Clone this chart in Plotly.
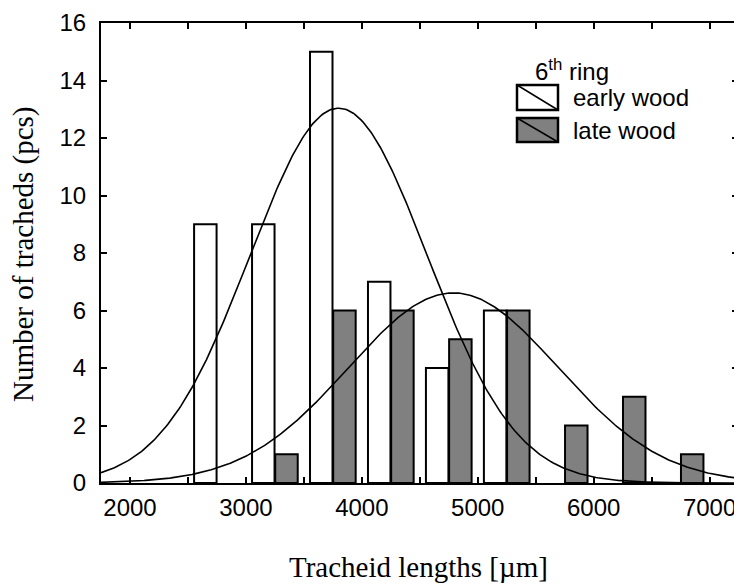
import numpy as np
import plotly.graph_objects as go

# ---- data ----
bin_centers_early = [2750, 3250, 3750, 4250, 4750, 5250]
counts_early = [9, 9, 15, 7, 4, 6]
bin_centers_late = [3250, 3750, 4250, 4750, 5250, 5750, 6250, 6750]
counts_late = [1, 6, 6, 5, 6, 2, 3, 1]
bin_width = 500

# normal-fit parameters (fitted curves drawn in the original)
fit_mean_early, fit_sd_early = 3800, 765
fit_mean_late, fit_sd_late = 4790, 905

x_range = [1750, 7245]
y_range = [0, 16]
x_tick_vals = [2000, 3000, 4000, 5000, 6000, 7000]
y_tick_vals = [0, 2, 4, 6, 8, 10, 12, 14, 16]

def normal_fit(mean, sd, n):
    xs = np.linspace(x_range[0], x_range[1], 400)
    ys = n * bin_width / (sd * np.sqrt(2 * np.pi)) * np.exp(-0.5 * ((xs - mean) / sd) ** 2)
    return xs, ys

fig = go.Figure()
fig.add_trace(go.Bar(x=bin_centers_early, y=counts_early, name="early wood",
                     marker=dict(color="white", line=dict(color="black", width=2))))
fig.add_trace(go.Bar(x=bin_centers_late, y=counts_late, name="late wood",
                     marker=dict(color="#808080", line=dict(color="black", width=2))))

xe, ye = normal_fit(fit_mean_early, fit_sd_early, sum(counts_early))
xl, yl = normal_fit(fit_mean_late, fit_sd_late, sum(counts_late))
fig.add_trace(go.Scatter(x=xe, y=ye, mode="lines", line=dict(color="black", width=1.6),
                         showlegend=False, hoverinfo="skip"))
fig.add_trace(go.Scatter(x=xl, y=yl, mode="lines", line=dict(color="black", width=1.6),
                         showlegend=False, hoverinfo="skip"))

tick_font = dict(family="Liberation Sans, Arial", size=24, color="black")
title_font = dict(family="Liberation Serif, Times New Roman", size=29, color="black")

# the page body has an 8px margin, so the figure is sized/placed to compensate
W, H = 734, 579
L, R, T, B = 93, 4, 15, 104
fig.update_layout(
    width=W, height=H,
    margin=dict(l=L, r=R, t=T, b=B, autoexpand=False),
    paper_bgcolor="white", plot_bgcolor="white",
    barmode="group", bargap=0.2, bargroupgap=0.03,
    showlegend=False,
    xaxis=dict(range=x_range, tickvals=x_tick_vals, ticks="inside", ticklen=6, tickwidth=1.5,
               tickcolor="black", showline=True, linecolor="black", linewidth=2, mirror="ticks",
               showgrid=False, zeroline=False, tickfont=tick_font, ticklabelstandoff=2,
               automargin=False,
               minor=dict(dtick=500, tick0=0, ticks="inside", ticklen=6, tickwidth=1.5, tickcolor="black")),
    yaxis=dict(range=y_range, tickvals=y_tick_vals, ticks="inside", ticklen=6, tickwidth=1.5,
               tickcolor="black", showline=True, linecolor="black", linewidth=2, mirror="ticks",
               showgrid=False, zeroline=False, tickfont=tick_font, ticklabelstandoff=8,
               automargin=False),
)

PW, PH = W - L - R, H - T - B

def px2paper(px, py):
    # px, py: positions in the figure's own pixel frame
    return (px - L) / PW, (T + PH - py) / PH

# axis titles as annotations for exact placement
tx, ty = px2paper(410, 559)
fig.add_annotation(xref="paper", yref="paper", x=tx, y=ty, text="Tracheid lengths [µm]",
                   showarrow=False, xanchor="center", yanchor="middle", font=title_font)
tx, ty = px2paper(15, 246)
fig.add_annotation(xref="paper", yref="paper", x=tx, y=ty, text="Number of tracheds (pcs)",
                   showarrow=False, xanchor="center", yanchor="middle", textangle=-90, font=title_font)

# custom legend (boxes with diagonal lines, like the original)
legend_items = [("early wood", "white", 77, 102), ("late wood", "#808080", 110, 134)]
for label, color, top, bot in legend_items:
    x0, y0 = px2paper(509, bot)
    x1, y1 = px2paper(550, top)
    fig.add_shape(type="rect", xref="paper", yref="paper", x0=x0, y0=y0, x1=x1, y1=y1,
                  fillcolor=color, line=dict(color="black", width=2.5))
    fig.add_shape(type="line", xref="paper", yref="paper", x0=x0, y0=y1, x1=x1, y1=y0,
                  line=dict(color="black", width=1.5))
    tx, ty = px2paper(563, (top + bot) / 2)
    fig.add_annotation(xref="paper", yref="paper", x=tx, y=ty, text=label, showarrow=False,
                       xanchor="left", yanchor="middle", font=tick_font)

hx, hy = px2paper(564, 62)
fig.add_annotation(xref="paper", yref="paper", x=hx, y=hy, text="6<sup>th</sup> ring",
                   showarrow=False, xanchor="center", yanchor="middle", font=tick_font)

fig.write_html("out.html")
